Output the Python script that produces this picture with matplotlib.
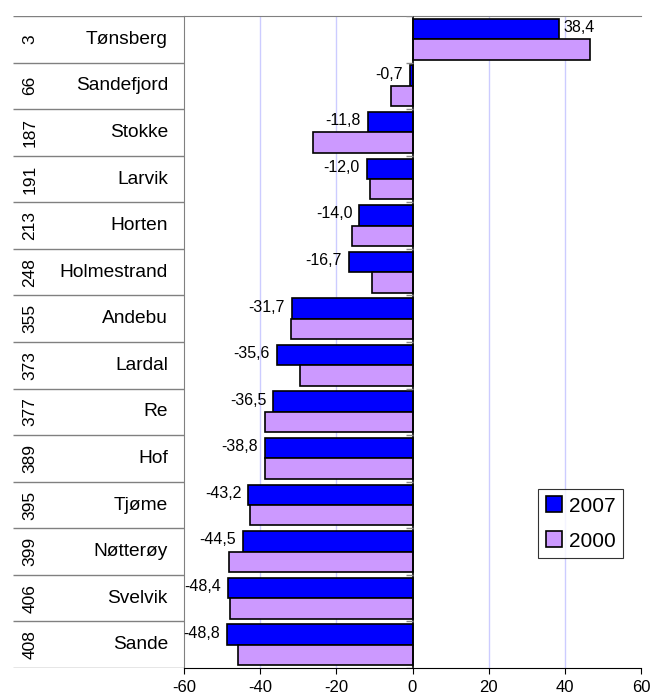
import numpy as np
import matplotlib.pyplot as plt

plt.rcParams['font.family'] = ['Liberation Sans', 'DejaVu Sans']

# ***** data
ranks = [3, 66, 187, 191, 213, 248, 355, 373, 377, 389, 395, 399, 406, 408]
names = ["Tønsberg", "Sandefjord", "Stokke", "Larvik", "Horten", "Holmestrand",
         "Andebu", "Lardal", "Re", "Hof", "Tjøme", "Nøtterøy", "Svelvik", "Sande"]
v2007 = [38.4, -0.7, -11.8, -12.0, -14.0, -16.7, -31.7, -35.6, -36.5, -38.8,
         -43.2, -44.5, -48.4, -48.8]
v2000 = [46.7, -5.6, -26.2, -11.2, -16.0, -10.7, -31.8, -29.6, -38.7, -38.6,
         -42.8, -48.3, -47.9, -45.9]
xticks = [-60, -40, -20, 0, 20, 40, 60]

n = len(names)
y = np.arange(n)
h = 0.44

fig = plt.figure(figsize=(6.5, 7), dpi=100)
W, H = 650.0, 700.0
ax = fig.add_axes([184 / W, 32 / H, 457 / W, 652 / H])
tab = fig.add_axes([13 / W, 32 / H, 171 / W, 652 / H])

# %%%%%%%%%%%%%%%% bars %%%%%%%%%%%%%%%%%%%%%%%%%%
ax.barh(y - h / 2, v2007, height=h, color='#0000ff', edgecolor='black', lw=1.2,
        label='2007', zorder=3)
ax.barh(y + h / 2, v2000, height=h, color='#cc99ff', edgecolor='black', lw=1.2,
        label='2000', zorder=3)

for yi, v in zip(y, v2007):
    s = ("%.1f" % v).replace('.', ',')
    if v >= 0:
        ax.text(v + 1.3, yi - h / 2 - 0.03, s, ha='left', va='center', fontsize=11.5)
    else:
        ax.text(v - 1.8, yi - h / 2 - 0.03, s, ha='right', va='center', fontsize=11.5)

ax.set_xlim(-60, 60)
ax.set_ylim(n - 0.5, -0.5)
ax.set_xticks(xticks)
ax.set_xticklabels([str(t) for t in xticks], fontsize=12)
ax.set_yticks([])
ax.tick_params(axis='x', direction='out', length=4, pad=5)
for t in [-40, -20, 20, 40]:
    ax.axvline(t, color='#ccccff', lw=1, zorder=1)
ax.axvline(0, color='black', lw=1.2, zorder=4)
ax.hlines(np.arange(n + 1) - 0.5, -1.6, 0, color='#888888', lw=1, zorder=4)

ax.spines['right'].set_visible(False)
ax.spines['left'].set_color('#808080')
ax.spines['top'].set_color('#808080')
ax.spines['bottom'].set_color('black')

leg = ax.legend(loc='lower right', bbox_to_anchor=(0.96, 0.169), fontsize=15,
                frameon=True, fancybox=False, edgecolor='black', handlelength=0.8,
                handleheight=0.8, handletextpad=0.3, labelspacing=0.75,
                borderpad=0.35, borderaxespad=0)
leg.get_frame().set_linewidth(0.8)

# ***** table on the left
tab.set_xlim(0, 1)
tab.set_ylim(n - 0.5, -0.5)
tab.axis('off')
tab.hlines(np.arange(n + 1) - 0.5, 0, 1, color='#808080', lw=1)
for yi, r, nm in zip(y, ranks, names):
    tab.text(0.1, yi, str(r), rotation=90, ha='center', va='center', fontsize=12.5)
    tab.text(0.906, yi, nm, ha='right', va='center', fontsize=13.8)

plt.savefig('out.png', dpi=100)
